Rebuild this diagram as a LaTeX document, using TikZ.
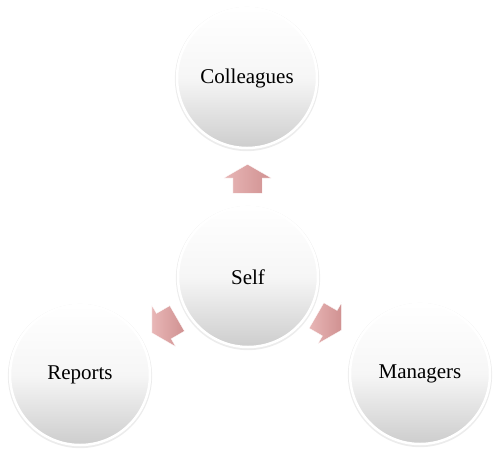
\documentclass[tikz,border=0pt]{standalone}
\usepackage{fontspec}
\setmainfont{Liberation Serif}
\usetikzlibrary{shapes.arrows,shadows,calc}
\definecolor{arrtop}{RGB}{232,182,182}
\definecolor{arrbot}{RGB}{208,145,145}
\definecolor{ballbot}{RGB}{205,205,205}
\definecolor{rimgray}{RGB}{218,218,218}
\tikzset{
  ball/.style={circle, minimum size=140pt, inner sep=0pt,
    top color=white, bottom color=ballbot, middle color=gray!7,
    draw=white, line width=2.5pt,
    font=\fontsize{21}{25}\selectfont,
    drop shadow={shadow xshift=0pt, shadow yshift=-1pt, shadow scale=1.03, opacity=0.5, fill=rimgray}},
  pinkarrow/.style={single arrow, minimum height=29pt, inner xsep=0pt, inner ysep=14.5pt,
    single arrow head extend=9pt, single arrow tip angle=120,
    left color=arrtop, right color=arrbot, draw=white, line width=0.3pt}
}
\begin{document}
\begin{tikzpicture}[x=1pt,y=1pt]
\useasboundingbox (0,0) rectangle (495,-451);
\node[ball] (coll) at (247,-78) {Colleagues};
\node[ball] (self) at (248,-277) {Self};
\node[ball] (rep) at (80,-375) {Reports};
\node[ball] (man) at (420,-374) {Managers};
\node[pinkarrow, rotate=90] (aup) at ($(self)!0.472!(coll)$) {};
\node[pinkarrow, rotate=210] (aleft) at ($(self)!0.475!(rep)$) {};
\node[pinkarrow, rotate=-30] (aright) at ($(self)!0.45!(man)$) {};
\end{tikzpicture}
\end{document}
